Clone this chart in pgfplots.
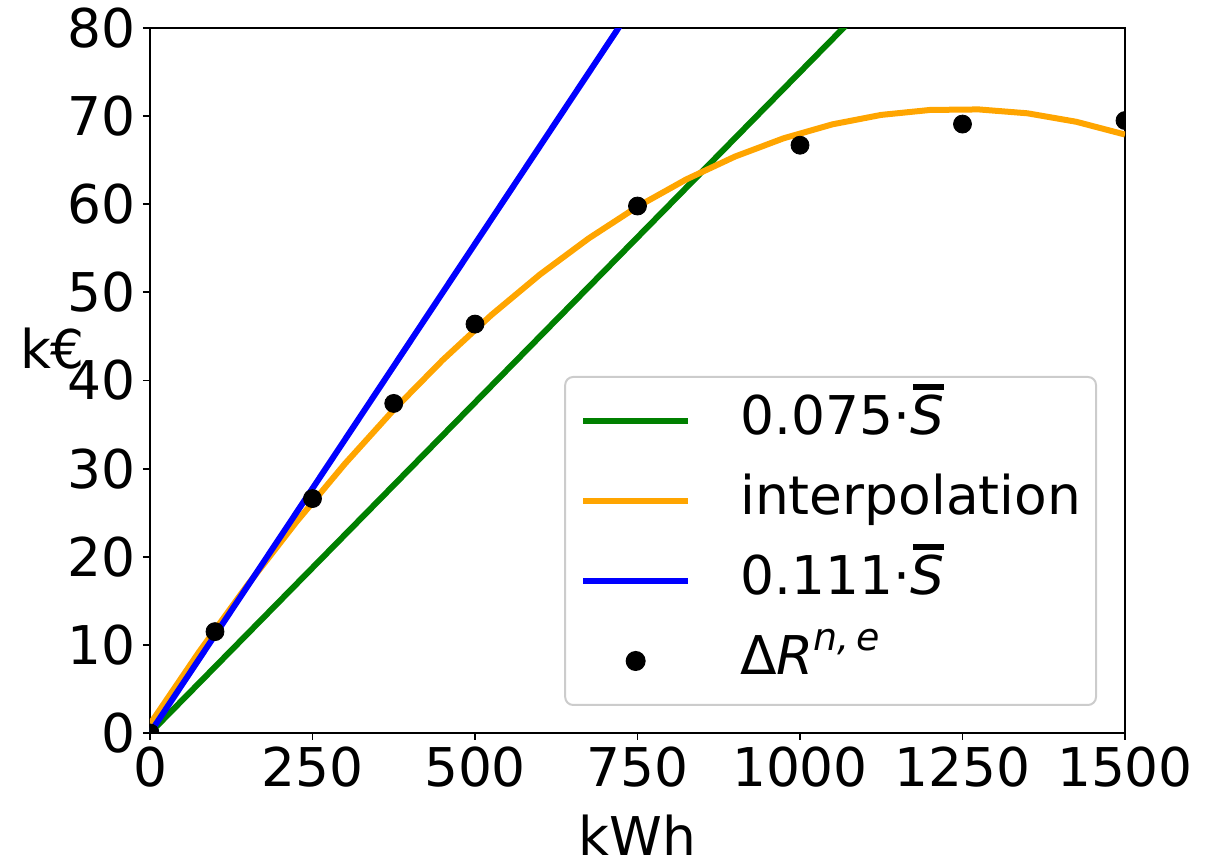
\documentclass[border=0pt]{standalone}
\usepackage{fontspec}
\setmainfont{DejaVu Sans}
\usepackage{pgfplots}
\usepackage{pgfplotstable}
\pgfplotsset{compat=1.18}
\definecolor{mgreen}{RGB}{0,128,0}
\definecolor{morange}{RGB}{255,165,0}
\definecolor{mblue}{RGB}{0,0,255}
\newcommand\bigfont{\fontsize{26.7}{30}\selectfont}
\newcommand\Sbar{\leavevmode\rlap{\hspace{0.06em}\raisebox{0.84em}{\rule{0.58em}{0.12em}}}\textit{S}}
\pgfplotsset{
  linelegend/.style={legend image code/.code={\draw[##1, line width=3pt] (0pt,0pt) -- (52.5pt,0pt);}},
  dotlegend/.style={legend image code/.code={\draw[##1, mark repeat=2, mark phase=2] plot coordinates {(0pt,0pt) (26.25pt,0pt) (52.5pt,0pt)};}},
}
\pgfplotstableread{
x y
0 1.00
75 9.15
150 16.79
225 23.93
300 30.56
375 36.68
450 42.30
525 47.42
600 52.03
675 56.13
750 59.73
825 62.82
900 65.41
975 67.49
1050 69.07
1125 70.14
1200 70.70
1275 70.76
1350 70.32
1425 69.36
1500 67.91
}\interp
\pgfplotstableread{
x y
0 0
100 11.5
250 26.6
375 37.4
500 46.4
750 59.8
1000 66.7
1250 69.1
1500 69.5
}\points
\begin{document}
\begin{tikzpicture}
\begin{axis}[
  scale only axis, width=487.5pt, height=352.5pt,
  xmin=0, xmax=1500, ymin=0, ymax=80,
  xtick={0,250,...,1500}, ytick={0,10,...,80},
  tick align=outside, tick pos=left,
  major tick length=3.5pt,
  every tick/.style={black, line width=0.9pt},
  axis line style={line width=1pt},
  clip marker paths=true,
  /pgf/number format/assume math mode=true,
  /pgf/number format/1000 sep={},
  ticklabel style={font=\bigfont},
  label style={font=\bigfont},
  xlabel={kWh}, ylabel={k€},
  xlabel style={at={(axis description cs:0.5,-0.174)}, anchor=base},
  ylabel style={at={(axis description cs:-0.100,0.545)}, anchor=center, rotate=-90},
  legend cell align=left,
  linelegend,
  legend style={at={(0.9713,0.0383)}, anchor=south east, draw=black!20,
    line width=1pt, rounded corners=4pt, fill=white, font=\bigfont,
    inner xsep=7.5pt, inner ysep=9pt, row sep=14pt,
    nodes={inner sep=0pt, text height=20pt, text depth=6pt},
    /tikz/every odd column/.append style={column sep=24.5pt}},
]
\addplot[mgreen, line width=3pt] coordinates {(0,0) (1500,112.5)};
\addlegendentry{0.075·\Sbar}
\addplot[morange, line width=3pt] table[x=x,y=y] {\interp};
\addlegendentry{interpolation}
\addplot[mblue, line width=3pt] coordinates {(0,0) (1500,166.5)};
\addlegendentry{0.111·\Sbar}
\addplot[only marks, mark=*, mark size=4.5pt, black, dotlegend]
  table[x=x,y=y] {\points};
\addlegendentry{Δ\textit{R}\raisebox{0.45em}{\fontsize{19}{20}\selectfont\itshape n,\,e}}
\end{axis}
\pgfresetboundingbox
\path[use as bounding box] ([xshift=-75pt,yshift=-62.5pt]current axis.south west) rectangle ([xshift=48.5pt,yshift=14pt]current axis.north east);
\end{tikzpicture}
\end{document}
